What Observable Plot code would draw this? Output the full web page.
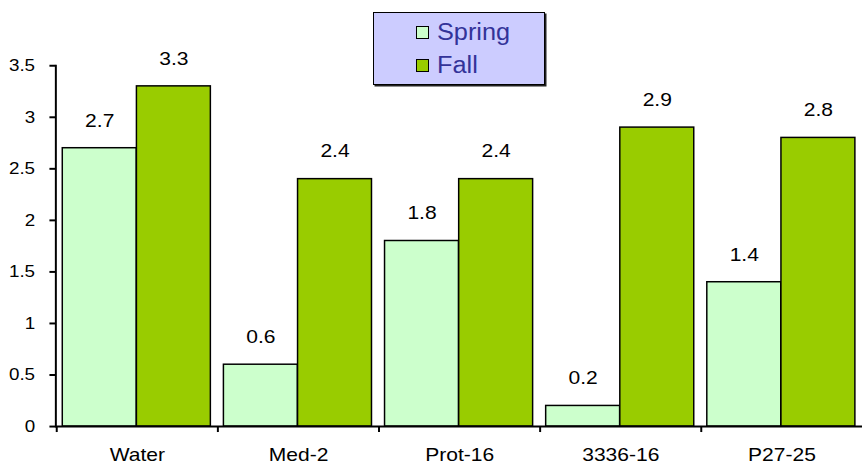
<!DOCTYPE html>
<html>
<head>
<meta charset="utf-8">
<script src="https://cdn.jsdelivr.net/npm/d3@7"></script>
<script src="https://cdn.jsdelivr.net/npm/@observablehq/plot@0.6"></script>
<style>
  html, body { margin: 0; padding: 0; background: #fff; }
  #wrap { position: relative; width: 862px; height: 470px; overflow: hidden; background: #fff; font-family: "Liberation Sans", Arial, sans-serif; }
  #legend { position: absolute; left: 373px; top: 12px; width: 172px; height: 73px; background: #ccccff; border: 1px solid #000; box-shadow: 1.5px 1.5px 0 #222; display: flex; flex-direction: column; justify-content: center; padding-left: 42px; box-sizing: border-box; gap: 5px; }
  .item { display: flex; align-items: center; color: #333399; font-size: 23px; line-height: 28px; }
  .sw { width: 11px; height: 11px; border: 1.5px solid #000; margin-right: 8px; flex: none; }
  .lbl { display: inline-block; transform: scaleX(1.1); transform-origin: left center; }
</style>
</head>
<body>
<div id="wrap"><div id="legend"></div></div>
<script>
const categories = ["Water", "Med-2", "Prot-16", "3336-16", "P27-25"];
const seriesNames = ["Spring", "Fall"];
const springValues = [2.7, 0.6, 1.8, 0.2, 1.4];
const fallValues = [3.3, 2.4, 2.4, 2.9, 2.8];
const yTicks = [0, 0.5, 1, 1.5, 2, 2.5, 3, 3.5];
const colors = { Spring: "#ccffcc", Fall: "#99cc00" };

const spring = categories.map((c, i) => ({ category: c, series: "Spring", value: springValues[i] }));
const fall = categories.map((c, i) => ({ category: c, series: "Fall", value: fallValues[i] }));

const W = 872, mL = 56, mR = 0;
const bw = (W - mL - mR) / categories.length; // band width in px

const chart = Plot.plot({
  width: W,
  height: 470,
  marginLeft: mL,
  marginRight: mR,
  marginTop: 66,
  marginBottom: 39,
  x: { domain: categories, padding: 0, axis: null, label: null },
  y: { domain: [0, 3.5], axis: null, label: null },
  style: { fontFamily: "'Liberation Sans', Arial, sans-serif", fontSize: "17px", color: "#000", background: "transparent", overflow: "visible" },
  marks: [
    Plot.barY(spring, { x: "category", y: "value", fill: colors.Spring, stroke: "#000", strokeWidth: 1.5, insetLeft: 6, insetRight: bw - 6 - 75 }),
    Plot.barY(fall, { x: "category", y: "value", fill: colors.Fall, stroke: "#000", strokeWidth: 1.5, insetLeft: 81, insetRight: bw - 81 - 75 }),
    Plot.text(spring, { x: "category", y: "value", text: d => String(d.value), dx: 6 + 37.5 - bw / 2, dy: -28, fontSize: 19, fill: "#000" }),
    Plot.text(fall, { x: "category", y: "value", text: d => String(d.value), dx: 81 + 37.5 - bw / 2, dy: -28, fontSize: 19, fill: "#000" }),
    Plot.frame({ anchor: "left", strokeWidth: 2, stroke: "#000" }),
    Plot.ruleY([0], { strokeWidth: 2, stroke: "#000" }),
    Plot.axisY({ ticks: yTicks, tickSize: 6, tickPadding: 15, tickFormat: d => String(d), fontSize: 17, strokeWidth: 2, label: null }),
    Plot.axisX({ tickSize: 0, tickPadding: 21, fontSize: 19, label: null }),
    Plot.ruleX(categories, { x: d => d, dx: -bw / 2, y1: 0, y2: -0.058, stroke: "#000", strokeWidth: 2 })
  ]
});
document.getElementById("wrap").prepend(chart);
chart.style.position = "absolute";
chart.style.left = "0";
chart.style.top = "0";

// the reference text is slightly stretched horizontally
const S = 1.12;
chart.querySelectorAll("text").forEach(t => {
  const ax = +(t.getAttribute("x") || 0);
  const tr = t.getAttribute("transform") || "";
  t.setAttribute("transform", `${tr} translate(${ax},0) scale(${S},1) translate(${-ax},0)`);
});

const legend = document.getElementById("legend");
seriesNames.forEach(s => {
  const it = document.createElement("div");
  it.className = "item";
  const sw = document.createElement("span");
  sw.className = "sw";
  sw.style.background = colors[s];
  const tx = document.createElement("span");
  tx.className = "lbl";
  tx.textContent = s;
  it.append(sw, tx);
  legend.append(it);
});
</script>
</body>
</html>
